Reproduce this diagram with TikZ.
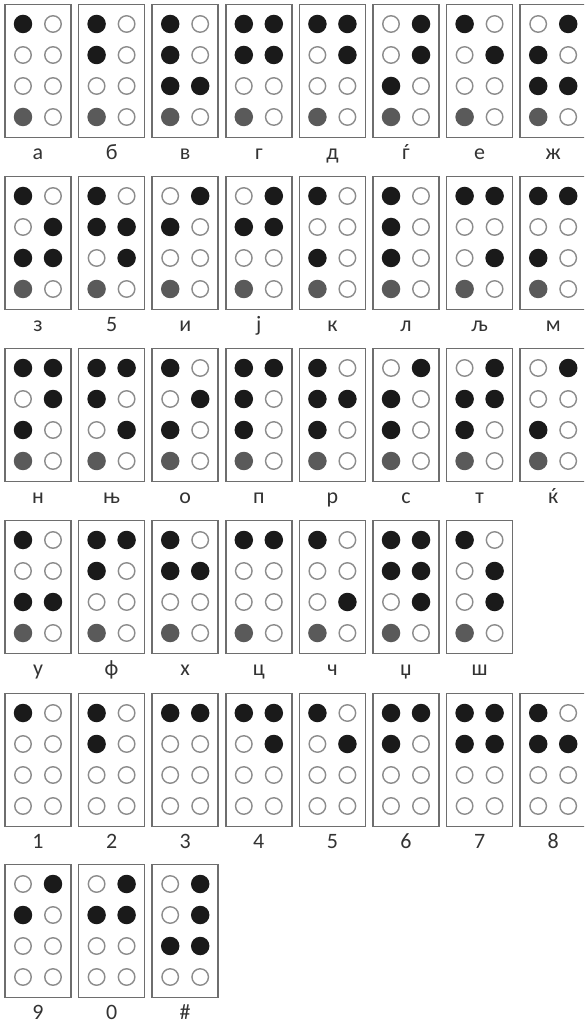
\documentclass[tikz,border=0pt]{standalone}
\usepackage{fontspec}
\usepackage{xcolor}
\usepackage{tikz}
\usetikzlibrary{calc,positioning}
\newfontfamily\lblfont{Carlito}
\definecolor{cellline}{HTML}{6E6E6E}
\definecolor{dotfull}{HTML}{1A1A1A}
\definecolor{dotopen}{HTML}{8C8C8C}
\definecolor{dotshade}{HTML}{5A5A5A}
\definecolor{lbltext}{HTML}{333333}
\tikzset{
  cellbox/.style={draw=cellline, line width=0.9pt, fill=white, minimum width=1.32cm,
    minimum height=2.66cm, inner sep=0pt},
  dot0/.style={circle, draw=dotopen, line width=0.8pt, fill=white, minimum size=0.33cm, inner sep=0pt},
  dot1/.style={circle, fill=dotfull, minimum size=0.37cm, inner sep=0pt},
  dot2/.style={circle, fill=dotshade, minimum size=0.37cm, inner sep=0pt},
  celllbl/.style={anchor=base, font=\lblfont\fontsize{12.5}{14}\selectfont, text=lbltext, inner sep=0pt},
}
% one braille cell: name, x, y, dots (row by row, left/right; 0 open, 1 full, 2 shaded), label
\newcommand{\brcell}[5]{%
  \node[cellbox] (#1) at (#2,#3) {};
  \foreach \st [count=\k from 0] in {#4} {
    \pgfmathtruncatemacro\rw{int(\k/2)}
    \pgfmathtruncatemacro\cl{mod(\k,2)}
    \node[dot\st] (#1-\k) at ([shift={({-15+30*\cl},{-47+31*\rw})}]#1.center) {};
  }
  \node[celllbl] (#1-lbl) at ([yshift=-0.43cm]#1.south) {#5};
}

\begin{document}
\begin{tikzpicture}[x=0.02cm, y=-0.02cm]
\useasboundingbox[fill=white] (0,0) rectangle (584,1026);
\clip (0,0) rectangle (584,1026);

%% row 1
\brcell{a}{38}{71}{1,0,0,0,0,0,2,0}{а}
\brcell{b}{111.6}{71}{1,0,1,0,0,0,2,0}{б}
\brcell{v}{185.2}{71}{1,0,1,0,1,1,2,0}{в}
\brcell{g}{258.8}{71}{1,1,1,1,0,0,2,0}{г}
\brcell{d}{332.4}{71}{1,1,0,1,0,0,2,0}{д}
\brcell{gj}{406}{71}{0,1,0,1,1,0,2,0}{ѓ}
\brcell{e}{479.6}{71}{1,0,0,1,0,0,2,0}{е}
\brcell{zh}{553.2}{71}{0,1,1,0,1,1,2,0}{ж}

%% row 2
\brcell{z}{38}{243}{1,0,0,1,1,1,2,0}{з}
\brcell{dz}{111.6}{243}{1,0,1,1,0,1,2,0}{5}
\brcell{i}{185.2}{243}{0,1,1,0,0,0,2,0}{и}
\brcell{j}{258.8}{243}{0,1,1,1,0,0,2,0}{ј}
\brcell{k}{332.4}{243}{1,0,0,0,1,0,2,0}{к}
\brcell{l}{406}{243}{1,0,1,0,1,0,2,0}{л}
\brcell{lj}{479.6}{243}{1,1,0,0,0,1,2,0}{љ}
\brcell{m}{553.2}{243}{1,1,0,0,1,0,2,0}{м}

%% row 3
\brcell{n}{38}{415}{1,1,0,1,1,0,2,0}{н}
\brcell{nj}{111.6}{415}{1,1,1,0,0,1,2,0}{њ}
\brcell{o}{185.2}{415}{1,0,0,1,1,0,2,0}{о}
\brcell{p}{258.8}{415}{1,1,1,0,1,0,2,0}{п}
\brcell{r}{332.4}{415}{1,0,1,1,1,0,2,0}{р}
\brcell{s}{406}{415}{0,1,1,0,1,0,2,0}{с}
\brcell{t}{479.6}{415}{0,1,1,1,1,0,2,0}{т}
\brcell{kj}{553.2}{415}{0,1,0,0,1,0,2,0}{ќ}

%% row 4
\brcell{u}{38}{587}{1,0,0,0,1,1,2,0}{у}
\brcell{f}{111.6}{587}{1,1,1,0,0,0,2,0}{ф}
\brcell{h}{185.2}{587}{1,0,1,1,0,0,2,0}{х}
\brcell{c}{258.8}{587}{1,1,0,0,0,0,2,0}{ц}
\brcell{ch}{332.4}{587}{1,0,0,0,0,1,2,0}{ч}
\brcell{dzh}{406}{587}{1,1,1,1,0,1,2,0}{џ}
\brcell{sh}{479.6}{587}{1,0,0,1,0,1,2,0}{ш}

%% row 5 -- digits
\brcell{n1}{38}{760}{1,0,0,0,0,0,0,0}{1}
\brcell{n2}{111.6}{760}{1,0,1,0,0,0,0,0}{2}
\brcell{n3}{185.2}{760}{1,1,0,0,0,0,0,0}{3}
\brcell{n4}{258.8}{760}{1,1,0,1,0,0,0,0}{4}
\brcell{n5}{332.4}{760}{1,0,0,1,0,0,0,0}{5}
\brcell{n6}{406}{760}{1,1,1,0,0,0,0,0}{6}
\brcell{n7}{479.6}{760}{1,1,1,1,0,0,0,0}{7}
\brcell{n8}{553.2}{760}{1,0,1,1,0,0,0,0}{8}

%% row 6
\brcell{n9}{38}{931}{0,1,1,0,0,0,0,0}{9}
\brcell{n0}{111.6}{931}{0,1,1,1,0,0,0,0}{0}
\brcell{hash}{185.2}{931}{0,1,0,1,1,1,0,0}{\#}

\end{tikzpicture}
\end{document}
